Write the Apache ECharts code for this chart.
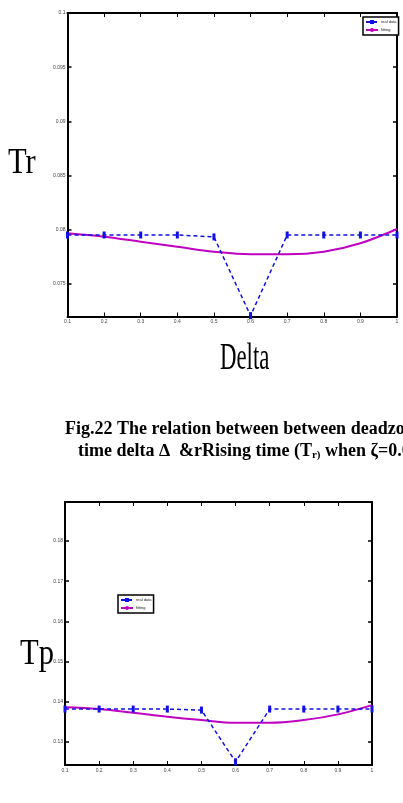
<!DOCTYPE html>
<html>
<head>
<meta charset="utf-8">
<script src="https://cdn.jsdelivr.net/npm/echarts@6/dist/echarts.min.js"></script>
<style>
html,body{margin:0;padding:0;background:#fff}
#main{width:403px;height:803px}
</style>
</head>
<body>
<div id="main"></div>
<script>
// x axis: deadzone time delta
var deltaVals = [0.1, 0.2, 0.3, 0.4, 0.5, 0.6, 0.7, 0.8, 0.9, 1];

// Fig.22 rising time Tr
var trReal = [0.07952, 0.07952, 0.07952, 0.07952, 0.07934, 0.07208, 0.07952, 0.07952, 0.07952, 0.07952];
var trFit = [0.07968, 0.07936, 0.0789, 0.07844, 0.07798, 0.07774, 0.07774, 0.07798, 0.07876, 0.08007];
var trTicks = [0.075, 0.08, 0.085, 0.09, 0.095, 0.1];

// peak time Tp
var tpReal = [0.13821, 0.13821, 0.13821, 0.13821, 0.13796, 0.1251, 0.13821, 0.13821, 0.13821, 0.13821];
var tpFit = [0.13863, 0.13821, 0.13729, 0.13629, 0.13547, 0.1348, 0.1348, 0.13547, 0.13689, 0.1392];
var tpTicks = [0.13, 0.14, 0.15, 0.16, 0.17, 0.18];

var seriesNames = ['real data', 'fitting'];

function pairs(ys) {
    return deltaVals.map(function (d, i) { return [d, ys[i]]; });
}

var myChart = echarts.init(document.getElementById('main'));

var blue = '#1010e0';
var magenta = '#c000c0';
var labelStyle = {fontSize: 5, color: '#444', fontFamily: 'Liberation Sans'};

function xAxes(gi) {
    return [
        {
            type: 'value', gridIndex: gi, min: 0.1, max: 1, interval: 0.1, position: 'bottom',
            axisLine: {lineStyle: {color: '#000', width: 2}},
            axisTick: {inside: true, length: 4, lineStyle: {color: '#000', width: 1}},
            axisLabel: Object.assign({margin: 3, formatter: function (v) { return String(Math.round(v * 10) / 10); }}, labelStyle),
            splitLine: {show: false}
        },
        {
            type: 'value', gridIndex: gi, min: 0.1, max: 1, interval: 0.1, position: 'top',
            axisLine: {lineStyle: {color: '#000', width: 2}},
            axisTick: {inside: true, length: 4, lineStyle: {color: '#000', width: 1}},
            axisLabel: {show: false},
            splitLine: {show: false}
        }
    ];
}

function yAxes(gi, min, max, ticks) {
    return [
        {
            type: 'value', gridIndex: gi, min: min, max: max, position: 'left',
            axisLine: {show: true, lineStyle: {color: '#000', width: 2}},
            axisTick: {show: true, inside: true, length: 4, customValues: ticks, lineStyle: {color: '#000', width: 1.5}},
            axisLabel: Object.assign({margin: 2, customValues: ticks}, labelStyle),
            splitLine: {show: false}
        },
        {
            type: 'value', gridIndex: gi, min: min, max: max, position: 'right',
            axisLine: {show: true, lineStyle: {color: '#000', width: 2}},
            axisTick: {show: true, inside: true, length: 4, customValues: ticks, lineStyle: {color: '#000', width: 1.5}},
            axisLabel: {show: false},
            splitLine: {show: false}
        }
    ];
}

function realSeries(xi, yi, data) {
    return {
        name: seriesNames[0], type: 'line', xAxisIndex: xi, yAxisIndex: yi,
        data: pairs(data),
        symbol: 'rect', symbolSize: [3, 7],
        itemStyle: {color: blue},
        lineStyle: {color: blue, width: 1.5, type: [4, 3]},
        z: 3
    };
}

function fitSeries(xi, yi, data) {
    return {
        name: seriesNames[1], type: 'line', xAxisIndex: xi, yAxisIndex: yi,
        data: pairs(data), smooth: 0.4,
        showSymbol: false, symbol: 'none',
        itemStyle: {color: magenta},
        lineStyle: {color: magenta, width: 2},
        z: 2
    };
}

var legendBase = {
    orient: 'vertical', data: seriesNames,
    backgroundColor: '#fff', borderColor: '#000', borderWidth: 1.5, borderRadius: 0,
    padding: [3, 2, 3, 2], itemGap: 4, itemWidth: 12, itemHeight: 5,
    textStyle: {fontSize: 4, color: '#222', padding: [0, 0, 0, -2]}
};

var option = {
    backgroundColor: '#fff',
    animation: false,
    grid: [
        {left: 67.5, top: 13, width: 329.5, height: 303.5, show: false},
        {left: 65, top: 502, width: 307, height: 263, show: false}
    ],
    legend: [
        Object.assign({left: 363, top: 17}, legendBase),
        Object.assign({left: 118, top: 595}, legendBase)
    ],
    xAxis: xAxes(0).concat(xAxes(1)),
    yAxis: yAxes(0, 0.072, 0.1, trTicks).concat(yAxes(1, 0.1243, 0.1897, tpTicks)),
    series: [
        realSeries(0, 0, trReal),
        fitSeries(0, 0, trFit),
        realSeries(2, 2, tpReal),
        fitSeries(2, 2, tpFit)
    ],
    graphic: [
        {type: 'text', left: 8, top: 146, scaleX: 0.85,
            style: {text: 'Tr', font: '36px "Liberation Serif"', fill: '#000'}},
        {type: 'text', left: 220, top: 340, scaleX: 0.6,
            style: {text: 'Delta', font: '38px "Liberation Serif"', fill: '#000'}},
        {type: 'text', left: 65, top: 420,
            style: {text: 'Fig.22 The relation between between deadzone', font: 'bold 18px "Liberation Serif"', fill: '#000'}},
        {type: 'text', left: 78, top: 442,
            style: {
                text: '{n|time delta \u2206  &rRising time (T}{s|r)}{n| when \u03b6=0.6}',
                rich: {
                    n: {font: 'bold 18px "Liberation Serif"', fill: '#000', color: '#000'},
                    s: {font: 'bold 11px "Liberation Serif"', fill: '#000', color: '#000', padding: [8, 0, 0, 0]}
                }
            }},
        {type: 'text', left: 20, top: 637, scaleX: 0.85,
            style: {text: 'Tp', font: '36px "Liberation Serif"', fill: '#000'}}
    ]
};

myChart.setOption(option);
</script>
</body>
</html>
